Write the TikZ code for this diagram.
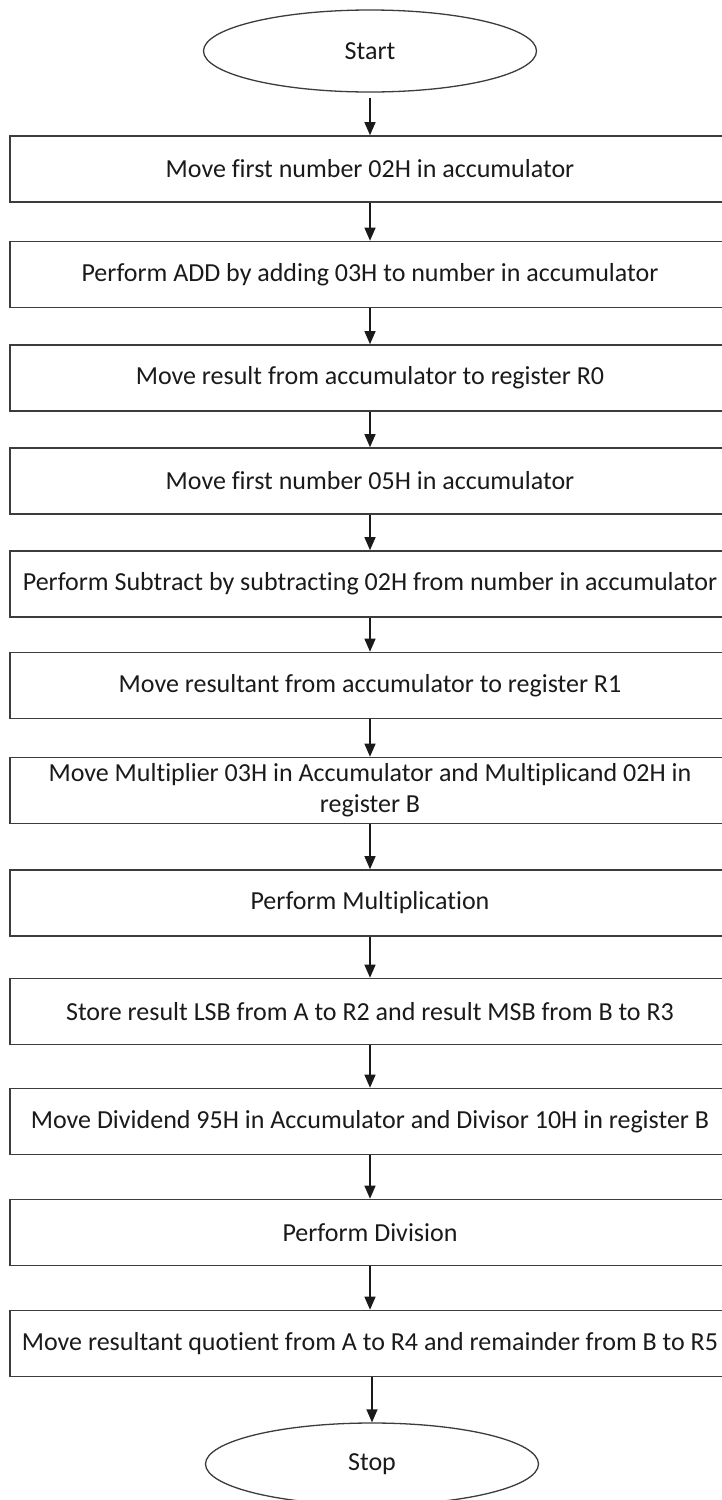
\documentclass[tikz,border=0pt]{standalone}
\usepackage{fontspec}
\setmainfont{Carlito}[Ligatures=NoCommon]
\usetikzlibrary{shapes.geometric,arrows.meta}
\definecolor{ink}{HTML}{1A1A1A}
\definecolor{edge}{HTML}{3C3C3C}
\begin{document}
\begin{tikzpicture}[x=1pt,y=1pt,
  every node/.style={font=\fontsize{26}{31}\selectfont, text=ink},
  term/.style={ellipse, draw=edge, line width=1.3pt, inner sep=0pt,
               minimum width=333pt, minimum height=82pt},
  stepbox/.style={rectangle, draw=edge, line width=1.6pt, inner sep=0pt,
                  minimum width=720pt, minimum height=66pt, align=center},
  flow/.style={draw=ink, line width=1.3pt, -{Triangle[length=13pt,width=11pt]}}]
\useasboundingbox (0,0) rectangle (722,-1500);

\node[term] (s) at (370,-51) {Start};
\node[stepbox] (b1) at (370,-169) {Move first number 02H in accumulator};
\node[stepbox] (b2) at (370,-274.5) {Perform ADD by adding 03H to number in accumulator};
\node[stepbox] (b3) at (370,-378) {Move result from accumulator to register R0};
\node[stepbox] (b4) at (370,-481) {Move first number 05H in accumulator};
\node[stepbox] (b5) at (370,-584) {Perform Subtract by subtracting 02H from number in accumulator};
\node[stepbox] (b6) at (370,-685.5) {Move resultant from accumulator to register R1};
\node[stepbox] (b7) at (370,-790.5) {Move Multiplier 03H in Accumulator and Multiplicand 02H in\\register B};
\node[stepbox] (b8) at (370,-903) {Perform Multiplication};
\node[stepbox] (b9) at (370,-1011.5) {Store result LSB from A to R2 and result MSB from B to R3};
\node[stepbox] (b10) at (370,-1121.5) {Move Dividend 95H in Accumulator and Divisor 10H in register B};
\node[stepbox] (b11) at (370,-1232.5) {Perform Division};
\node[stepbox] (b12) at (370,-1343.5) {Move resultant quotient from A to R4 and remainder from B to R5};
\node[term] (e) at (372,-1464) {Stop};

\draw[flow] ([yshift=-5pt]s.south) -- (b1.north);
\foreach \a/\b in {b1/b2,b2/b3,b3/b4,b4/b5,b5/b6,b6/b7,b7/b8,b8/b9,b9/b10,b10/b11,b11/b12}
  \draw[flow] (\a.south) -- (\b.north);
\draw[flow] (b12.south -| e.north) -- (e.north);
\end{tikzpicture}
\end{document}
